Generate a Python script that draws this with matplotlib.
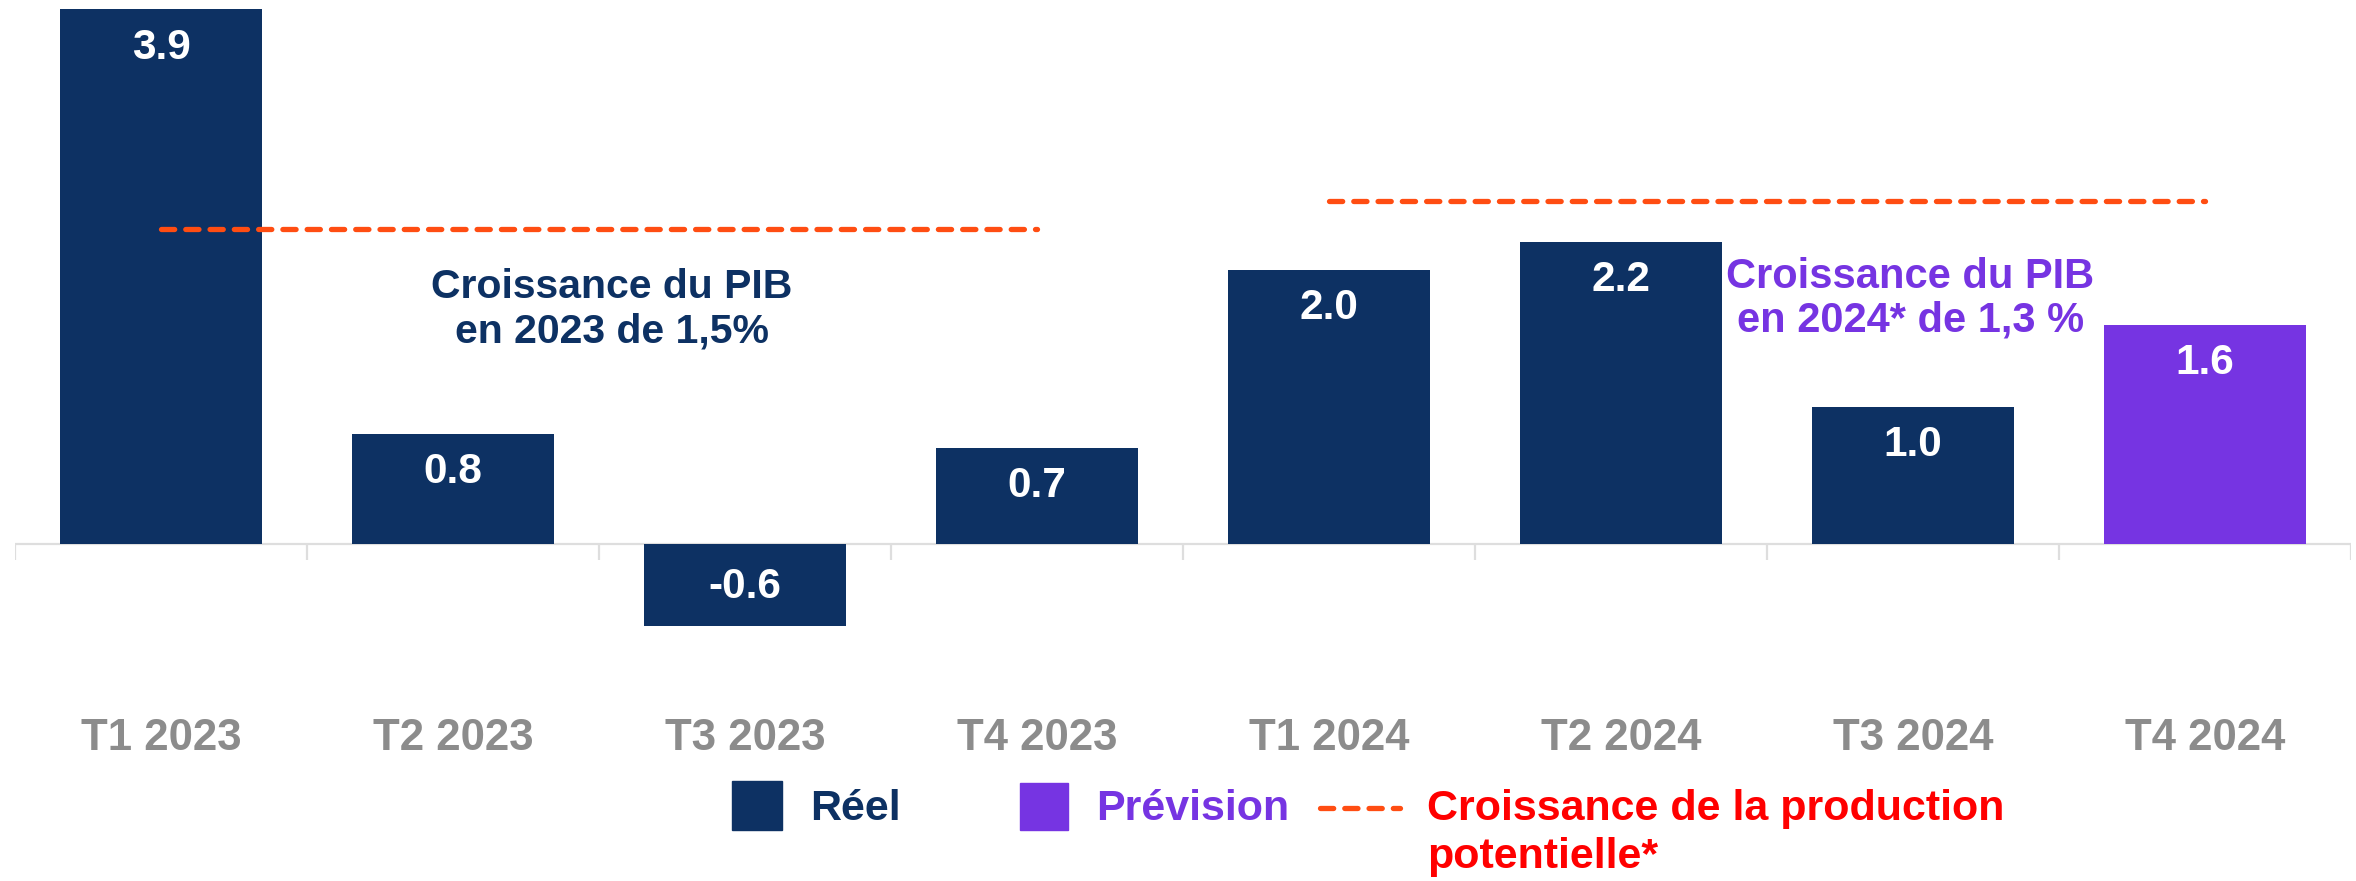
import matplotlib.pyplot as plt
from matplotlib.patches import Rectangle
from matplotlib.lines import Line2D

plt.rcParams['font.family'] = ['Liberation Sans', 'DejaVu Sans']
plt.rcParams['font.weight'] = 'bold'

quarters = ["T1 2023", "T2 2023", "T3 2023", "T4 2023",
            "T1 2024", "T2 2024", "T3 2024", "T4 2024"]
growth = [3.9, 0.8, -0.6, 0.7, 2.0, 2.2, 1.0, 1.6]
forecast = [False, False, False, False, False, False, False, True]
potential_2023 = 2.3
potential_2024 = 2.5

navy = '#0d3163'
purple = '#7634e2'
orange = '#ff4d12'
red = '#ff0000'
grey = '#8c8c8c'
axis_grey = '#dedede'

W, H = 2356, 881
fig = plt.figure(figsize=(W / 100, H / 100), dpi=100)
ax = fig.add_axes([15 / W, 1 - 640 / H, 2336 / W, 640 / H])

x = list(range(len(quarters)))
colors = [purple if f else navy for f in forecast]
ax.bar(x, growth, width=0.69, color=colors, zorder=2)

for xi, v in zip(x, growth):
    off = -27.5 if v > 0 else 28
    ax.annotate(f"{v:.1f}", (xi, v), xytext=(0, off), textcoords='offset points',
                ha='center', va='center', color='white', fontsize=30.5, fontweight='bold')

# potential growth lines
for xs, val in [((0, 3), potential_2023), ((4, 7), potential_2024)]:
    ax.plot(xs, [val, val], color=orange, lw=3.8, dashes=(2.5, 2.1),
            dash_capstyle='round', zorder=3)

# axis line and category ticks
ax.axhline(0, color=axis_grey, lw=1.6, zorder=1)
ax.vlines([i - 0.5 for i in range(len(quarters) + 1)], -0.118, 0,
          color=axis_grey, lw=1.6, zorder=1)

scale = 137.0
ax.set_xlim(-0.5, 7.5)
ax.set_ylim(-96.3 / scale, 543.7 / scale)
ax.set_xticks(x)
ax.set_xticklabels(quarters, fontsize=31.5, color=grey, fontweight='bold')
ax.tick_params(axis='x', length=0, pad=56)
ax.set_yticks([])
for s in ax.spines.values():
    s.set_visible(False)

ax.text(1.545, 1.71, "Croissance du PIB\nen 2023 de 1,5%", ha='center', va='center',
        color=navy, fontsize=29.5, fontweight='bold', linespacing=1.2)
ax.text(5.99, 1.79, "Croissance du PIB\nen 2024* de 1,3 %", ha='center', va='center',
        color=purple, fontsize=30, fontweight='bold', linespacing=1.12)

# legend drawn in figure pixels
def fx(px):
    return px / W

def fy(py):
    return 1 - py / H

fig.patches.append(Rectangle((fx(732), fy(830)), 50 / W, 49 / H, color=navy,
                             transform=fig.transFigure))
fig.text(fx(810), fy(809), "Réel", va='center', ha='left', color=navy,
         fontsize=31, fontweight='bold')
fig.patches.append(Rectangle((fx(1020), fy(830)), 48 / W, 47 / H, color=purple,
                             transform=fig.transFigure))
fig.text(fx(1096), fy(809), "Prévision", va='center', ha='left', color=purple,
         fontsize=31, fontweight='bold')
fig.add_artist(Line2D([fx(1320), fx(1400)], [fy(808), fy(808)], color=orange, lw=3.8,
                      dashes=(2.5, 2.1), dash_capstyle='round',
                      transform=fig.transFigure))
fig.text(fx(1427), fy(809), "Croissance de la production", va='center', ha='left',
         color=red, fontsize=31, fontweight='bold')
fig.text(fx(1427), fy(857), "potentielle*", va='center', ha='left',
         color=red, fontsize=31, fontweight='bold')

fig.savefig("out.png", dpi=100)
